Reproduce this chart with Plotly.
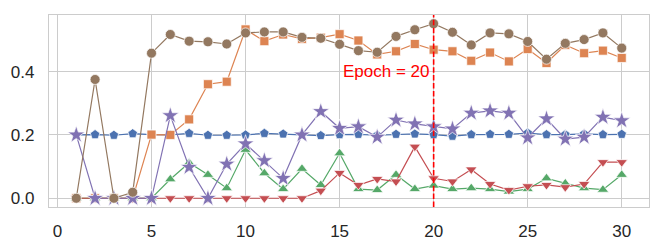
import plotly.graph_objects as go

epochs = list(range(1, 31))
blue = [0.200, 0.201, 0.199, 0.204, 0.201, 0.200, 0.205, 0.199, 0.199, 0.200,
        0.205, 0.203, 0.201, 0.198, 0.201, 0.202, 0.199, 0.202, 0.203, 0.201,
        0.196, 0.201, 0.202, 0.202, 0.206, 0.201, 0.201, 0.203, 0.201, 0.202]
orange = [0.0, 0.0, 0.0, 0.0, 0.201, 0.200, 0.249, 0.360, 0.368, 0.533,
          0.496, 0.517, 0.503, 0.507, 0.518, 0.498, 0.454, 0.464, 0.487, 0.469,
          0.464, 0.434, 0.460, 0.432, 0.471, 0.427, 0.484, 0.458, 0.466, 0.443]
green = [0.0, 0.0, 0.0, 0.0, 0.0, 0.060, 0.112, 0.074, 0.032, 0.153,
         0.079, 0.029, 0.093, 0.042, 0.142, 0.029, 0.026, 0.074, 0.029, 0.040,
         0.029, 0.032, 0.029, 0.021, 0.029, 0.063, 0.047, 0.032, 0.027, 0.074]
red = [0.0, 0.0, 0.0, 0.0, 0.0, 0.0, 0.0, 0.0, 0.0, 0.0,
       0.0, 0.0, 0.0, 0.024, 0.080, 0.042, 0.061, 0.053, 0.163, 0.063,
       0.053, 0.091, 0.045, 0.026, 0.038, 0.042, 0.035, 0.045, 0.114, 0.114]
purple = [0.200, 0.0, 0.0, 0.0, 0.0, 0.261, 0.098, 0.0, 0.108, 0.172,
          0.119, 0.063, 0.200, 0.274, 0.221, 0.226, 0.193, 0.247, 0.235, 0.226,
          0.219, 0.269, 0.276, 0.269, 0.191, 0.251, 0.187, 0.193, 0.256, 0.245]
brown = [0.0, 0.375, 0.0, 0.019, 0.458, 0.517, 0.496, 0.494, 0.487, 0.522,
         0.525, 0.525, 0.508, 0.505, 0.486, 0.466, 0.461, 0.511, 0.532, 0.551,
         0.524, 0.484, 0.522, 0.519, 0.495, 0.439, 0.489, 0.501, 0.522, 0.474]

series = [
    (blue, "#4C72B0", "pentagon", 10),
    (orange, "#DD8452", "square", 9),
    (green, "#55A868", "triangle-up", 10),
    (red, "#C44E52", "triangle-down", 10),
    (purple, "#8172B3", "star", 13),
    (brown, "#937860", "circle", 10),
]

marker_epoch = 20
label = "Epoch = 20"

fig = go.Figure()
for vals, color, sym, size in series:
    fig.add_trace(go.Scatter(
        x=epochs, y=vals, mode="lines+markers",
        line=dict(color=color, width=1.2),
        marker=dict(symbol=sym, size=size, color=color,
                    line=dict(color="white", width=0.7)),
        showlegend=False,
    ))

fig.add_vline(x=marker_epoch, line=dict(color="#ff0000", width=1.6, dash="5.5px,2.4px"))
fig.add_annotation(x=marker_epoch, y=0.4, text=label, showarrow=False,
                   xanchor="right", yanchor="middle", xshift=-2,
                   font=dict(color="#ff0000", size=17, family="Liberation Sans, Arial"))

ymax = max(max(s[0]) for s in series)
pad = ymax * 0.05
# page body has an 8px default margin; the figure is sized to fill the rest of the window
fig.update_layout(
    width=656, height=241,
    margin=dict(l=41, r=15, t=7, b=42, autoexpand=False),
    plot_bgcolor="white", paper_bgcolor="white",
    font=dict(family="Liberation Sans, Arial", size=17, color="#262626"),
)
fig.update_xaxes(range=[1 - 29 * 0.05, 30 + 29 * 0.05], tickvals=[0, 5, 10, 15, 20, 25, 30],
                 showgrid=True, gridcolor="#cccccc", gridwidth=1,
                 showline=True, linecolor="#cccccc", linewidth=1.25, mirror=True,
                 zeroline=False, ticks="", ticklabelstandoff=8, automargin=False)
fig.update_yaxes(range=[-pad, ymax + pad], tickvals=[0.0, 0.2, 0.4], tickformat=".1f",
                 showgrid=True, gridcolor="#cccccc", gridwidth=1,
                 showline=True, linecolor="#cccccc", linewidth=1.25, mirror=True,
                 zeroline=False, ticks="", ticklabelstandoff=10, automargin=False)

fig.write_html("out.html")
